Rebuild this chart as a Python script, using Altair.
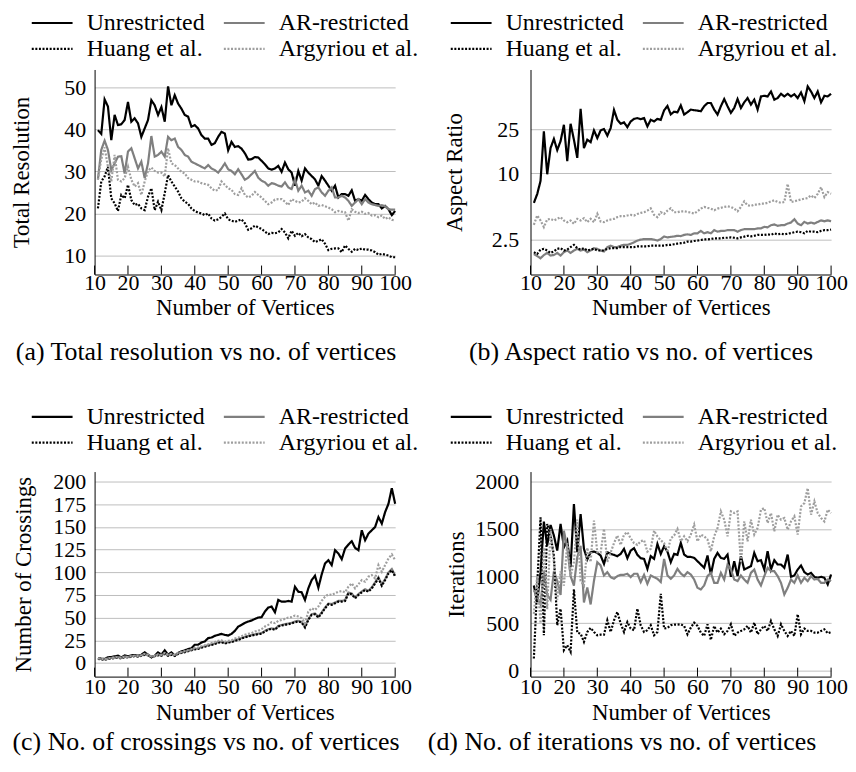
import altair as alt
import pandas as pd

FONT = "Liberation Serif"
TICK_FS = 22
TITLE_FS = 23
LEG_FS = 24
CAP_FS = 26

vertices = list(range(11, 101))
x_ticks = [10, 20, 30, 40, 50, 60, 70, 80, 90, 100]
series_names = ["Unrestricted", "AR-restricted", "Huang et al.", "Argyriou et al."]
series_colors = ["#000000", "#7f7f7f", "#000000", "#9e9e9e"]
series_dashes = [[1, 0], [1, 0], [2, 1.6], [2, 1.6]]
series_widths = [2.2, 2.2, 1.8, 1.8]

# (a) Total resolution
res_unres = [39.8, 38.9, 47.1, 45.4, 37.4, 43.4, 41.0, 41.2, 42.2, 46.5,
             41.8, 42.6, 41.4, 38.2, 40.2, 42.2, 46.9, 45.7, 43.4, 45.3,
             41.8, 50.2, 45.7, 48.1, 46.1, 44.9, 43.4, 43.0, 40.6, 41.0,
             40.2, 38.6, 37.8, 37.8, 36.3, 36.7, 38.2, 39.4, 39.0, 35.0,
             37.0, 35.8, 36.0, 35.4, 34.3, 32.8, 32.9, 33.4, 33.3, 32.5,
             31.7, 30.7, 30.4, 30.7, 31.3, 29.9, 32.1, 30.5, 29.7, 26.6,
             30.1, 27.8, 30.7, 29.7, 28.9, 28.1, 26.6, 28.9, 27.8, 26.6,
             25.4, 26.6, 23.8, 24.6, 24.6, 24.2, 25.5, 23.0, 23.4, 23.0,
             24.4, 23.4, 22.6, 22.2, 22.2, 21.2, 21.8, 21.0, 19.6, 20.6]
res_ar = [28.1, 35.1, 37.3, 35.1, 30.3, 31.9, 33.5, 33.6, 29.5, 34.7,
          35.5, 33.1, 30.7, 32.3, 28.4, 31.9, 38.4, 33.5, 33.9, 34.7,
          33.5, 38.2, 37.4, 37.8, 35.8, 35.1, 33.9, 33.5, 32.3, 31.9,
          31.5, 31.1, 30.7, 31.5, 30.7, 30.3, 29.7, 30.7, 31.9, 30.5,
          30.1, 29.3, 30.5, 29.3, 28.0, 28.5, 29.3, 30.1, 28.5, 27.8,
          27.4, 26.6, 27.2, 27.0, 26.6, 26.4, 27.4, 26.2, 25.8, 28.1,
          25.4, 26.6, 25.0, 25.4, 24.2, 25.8, 26.2, 25.0, 24.2, 25.4,
          26.2, 23.8, 23.8, 24.2, 23.8, 23.0, 21.8, 22.6, 23.4, 22.2,
          23.4, 22.6, 22.2, 22.0, 21.8, 22.0, 21.7, 21.0, 20.9, 20.9]
res_huang = [21.2, 27.6, 28.8, 31.1, 23.6, 22.4, 20.6, 24.4, 23.6, 26.8,
             23.2, 22.0, 22.3, 21.2, 20.8, 24.0, 26.0, 20.8, 22.8, 20.8,
             24.8, 29.1, 27.6, 26.4, 25.2, 23.6, 22.8, 22.3, 21.2, 20.6,
             20.2, 20.0, 19.6, 20.0, 18.8, 18.3, 18.6, 19.2, 20.0, 18.6,
             18.3, 18.0, 18.3, 18.6, 17.7, 16.1, 16.5, 17.1, 16.7, 16.3,
             15.7, 15.1, 15.4, 15.3, 15.5, 16.3, 15.5, 14.1, 15.9, 14.7,
             15.4, 14.6, 15.1, 14.3, 13.9, 13.2, 13.5, 13.9, 12.8, 11.3,
             11.6, 11.7, 11.7, 10.8, 12.4, 11.6, 10.9, 11.6, 11.3, 11.7,
             11.4, 11.4, 11.2, 10.8, 10.2, 10.4, 10.2, 10.0, 9.6, 9.6]
res_arg = [28.0, 32.9, 35.7, 31.1, 27.6, 33.9, 28.0, 27.6, 28.4, 31.1,
           28.0, 26.4, 27.2, 24.4, 27.6, 30.1, 30.9, 30.1, 29.7, 29.7,
           28.8, 35.5, 31.9, 31.5, 30.7, 29.9, 29.5, 28.4, 28.0, 27.6,
           27.6, 27.2, 27.0, 26.8, 26.0, 25.4, 25.6, 27.6, 26.8, 26.0,
           25.6, 24.6, 24.4, 26.0, 24.4, 23.8, 24.2, 25.1, 24.4, 23.8,
           23.0, 22.2, 22.6, 23.3, 23.4, 23.4, 22.8, 22.0, 23.4, 23.0,
           22.6, 22.8, 23.6, 23.0, 22.2, 22.6, 21.8, 22.0, 21.7, 21.4,
           21.0, 20.3, 20.6, 20.4, 20.3, 18.3, 21.0, 20.4, 20.1, 20.4,
           19.9, 20.1, 19.5, 19.6, 19.1, 19.5, 18.7, 19.1, 18.5, 18.3]

# (b) Aspect ratio
asp_unres = [5.40, 6.49, 8.53, 23.9, 9.8, 16.9, 20.4, 16.2, 19.5, 27.4,
             12.9, 28.0, 20.1, 13.8, 38.1, 16.9, 20.1, 19.1, 24.4, 20.8,
             24.4, 25.1, 21.9, 25.6, 37.3, 30.4, 28.0, 28.8, 26.1, 29.4,
             31.0, 31.5, 30.8, 31.5, 26.5, 30.4, 29.4, 31.0, 30.4, 37.0,
             40.5, 34.0, 36.0, 35.5, 41.0, 33.9, 35.6, 37.6, 37.1, 36.8,
             36.3, 40.3, 43.1, 43.1, 37.6, 33.9, 40.3, 46.8, 40.3, 35.1,
             38.9, 46.8, 38.9, 43.7, 47.8, 41.7, 46.2, 37.6, 49.4, 50.1,
             49.4, 54.8, 46.2, 47.8, 52.2, 49.4, 52.2, 49.4, 51.8, 47.8,
             53.7, 44.7, 60.8, 54.8, 47.8, 54.8, 43.7, 50.1, 49.4, 52.2]
asp_ar = [1.87, 1.79, 1.71, 1.83, 1.91, 1.81, 1.83, 1.91, 1.81, 1.94,
          2.01, 1.91, 2.01, 2.08, 2.01, 2.05, 1.94, 2.01, 2.11, 2.08,
          2.01, 1.97, 2.16, 2.22, 2.16, 2.16, 2.22, 2.26, 2.26, 2.31,
          2.38, 2.47, 2.52, 2.55, 2.55, 2.55, 2.52, 2.47, 2.55, 2.69,
          2.64, 2.67, 2.69, 2.73, 2.71, 2.78, 2.81, 2.78, 2.87, 2.87,
          3.02, 2.87, 2.94, 2.87, 3.07, 2.97, 3.02, 3.02, 3.07, 3.07,
          3.07, 2.97, 3.07, 3.13, 3.13, 3.13, 3.13, 3.18, 3.18, 3.29,
          3.25, 3.40, 3.45, 3.36, 3.40, 3.40, 3.52, 3.59, 3.85, 3.52,
          3.40, 3.64, 3.52, 3.59, 3.52, 3.64, 3.76, 3.69, 3.76, 3.69]
asp_huang = [1.94, 1.87, 2.05, 2.08, 2.01, 1.91, 1.97, 2.08, 2.11, 2.01,
             2.05, 2.16, 2.26, 2.11, 2.05, 2.11, 2.01, 2.05, 2.08, 2.01,
             2.01, 2.01, 2.08, 2.11, 2.11, 2.11, 2.16, 2.16, 2.16, 2.16,
             2.16, 2.19, 2.19, 2.19, 2.19, 2.22, 2.22, 2.22, 2.22, 2.22,
             2.26, 2.26, 2.29, 2.32, 2.34, 2.36, 2.42, 2.42, 2.45, 2.47,
             2.50, 2.53, 2.53, 2.55, 2.59, 2.59, 2.59, 2.62, 2.62, 2.64,
             2.62, 2.59, 2.64, 2.68, 2.73, 2.70, 2.73, 2.78, 2.78, 2.78,
             2.81, 2.78, 2.87, 2.81, 2.85, 2.81, 2.85, 2.89, 2.94, 2.97,
             2.94, 2.87, 3.02, 2.97, 2.97, 2.94, 3.02, 3.07, 3.07, 3.10]
asp_arg = [3.43, 4.16, 3.75, 3.27, 3.83, 3.88, 3.75, 3.88, 4.02, 3.75,
           3.62, 3.75, 3.50, 3.88, 3.75, 3.94, 3.62, 3.88, 3.62, 4.30,
           3.67, 3.62, 3.75, 3.83, 3.88, 4.02, 4.10, 4.10, 4.16, 4.21,
           4.16, 4.30, 4.39, 4.45, 4.60, 4.83, 4.21, 4.02, 4.45, 4.30,
           4.60, 4.83, 4.45, 4.45, 4.54, 4.54, 4.48, 4.42, 4.33, 4.54,
           4.80, 4.97, 4.88, 4.80, 4.64, 4.80, 4.88, 4.97, 5.03, 4.97,
           4.80, 4.54, 4.97, 5.58, 5.14, 5.07, 5.21, 5.21, 5.32, 5.32,
           5.42, 5.58, 5.70, 5.51, 5.42, 5.51, 8.02, 5.51, 5.58, 5.70,
           5.81, 5.90, 5.98, 6.31, 5.98, 6.53, 7.50, 6.10, 6.76, 6.53]

# (c) Number of crossings
cr_unres = [5.5, 4.7, 4.4, 6.2, 6.6, 7.3, 8.0, 6.2, 8.4, 7.3,
            8.4, 8.8, 8.0, 9.1, 11.7, 9.1, 6.2, 8.0, 11.7, 9.1,
            13.9, 9.1, 11.7, 8.0, 11.0, 12.8, 13.9, 15.3, 16.4, 20.1,
            20.1, 22.6, 23.7, 27.4, 28.1, 29.9, 31.0, 32.1, 31.0, 30.3,
            32.1, 35.4, 40.1, 42.0, 44.2, 45.7, 46.8, 48.6, 50.1, 50.5,
            56.7, 61.1, 62.2, 55.9, 69.5, 67.6, 67.6, 68.4, 67.6, 84.1,
            78.6, 77.9, 69.5, 82.3, 91.4, 96.2, 83.0, 97.6, 109.7, 113.3,
            107.9, 124.3, 120.7, 114.4, 126.1, 130.5, 134.2, 126.9, 124.3, 146.3,
            135.3, 142.6, 146.3, 149.9, 160.9, 153.6, 166.4, 175.5, 192.7, 175.5]
cr_ar = [5.0, 4.5, 4.0, 5.0, 5.5, 6.0, 6.5, 5.5, 7.0, 6.5,
         7.5, 8.0, 7.5, 8.5, 9.5, 9.0, 7.0, 8.0, 9.0, 8.5,
         10.5, 8.5, 9.5, 8.5, 10.5, 11.5, 12.5, 13.5, 14.5, 15.5,
         16.0, 17.5, 18.5, 19.5, 20.5, 21.5, 23.0, 23.5, 22.0, 23.0,
         23.5, 25.0, 26.0, 27.5, 28.8, 29.8, 30.8, 31.5, 32.3, 33.0,
         35.4, 37.2, 38.2, 37.3, 40.8, 41.9, 42.8, 43.5, 44.2, 45.8,
         46.5, 45.3, 40.0, 48.3, 53.8, 54.6, 51.0, 55.7, 61.0, 65.5,
         64.9, 66.6, 68.5, 68.4, 69.3, 77.7, 76.6, 72.2, 75.9, 78.8,
         81.3, 79.6, 83.3, 88.9, 94.4, 86.3, 92.5, 99.8, 103.6, 96.2]
cr_huang = [4.5, 4.0, 3.5, 4.5, 5.0, 5.5, 6.0, 5.0, 6.5, 6.0,
            7.0, 7.5, 7.0, 8.0, 9.0, 8.5, 6.5, 7.5, 8.5, 8.0,
            10.0, 8.0, 9.0, 8.0, 10.0, 11.0, 12.0, 13.0, 14.0, 15.0,
            15.5, 17.0, 18.0, 19.0, 20.0, 21.0, 22.5, 23.0, 21.5, 22.5,
            23.0, 24.5, 25.5, 27.0, 28.2, 29.3, 30.3, 31.1, 31.8, 32.2,
            34.7, 36.6, 37.7, 36.6, 40.2, 41.3, 42.0, 42.8, 43.5, 45.0,
            45.7, 44.6, 39.1, 47.5, 53.0, 53.7, 50.1, 54.8, 60.3, 64.7,
            64.0, 65.8, 67.6, 67.6, 68.4, 76.8, 75.7, 71.3, 75.0, 77.9,
            80.4, 78.6, 82.3, 87.8, 93.2, 85.2, 91.4, 98.7, 102.4, 95.1]
cr_arg = [5.0, 4.5, 4.0, 5.0, 5.5, 6.0, 6.5, 5.5, 7.0, 6.5,
          7.5, 8.0, 7.5, 8.5, 10.0, 9.0, 7.0, 8.0, 9.5, 9.0,
          11.0, 9.0, 10.0, 9.0, 11.0, 12.0, 13.0, 14.0, 15.0, 16.5,
          17.0, 18.5, 19.5, 20.5, 22.0, 23.0, 24.5, 25.0, 23.5, 24.5,
          25.0, 27.0, 28.0, 29.5, 31.1, 32.2, 32.9, 34.7, 35.5, 37.3,
          40.2, 42.0, 45.0, 43.9, 46.4, 47.5, 48.6, 50.1, 50.5, 52.3,
          51.2, 49.4, 43.9, 56.7, 60.3, 58.5, 62.2, 68.4, 73.1, 75.7,
          75.0, 76.8, 78.6, 79.3, 77.9, 84.1, 87.8, 82.3, 86.7, 91.4,
          89.6, 95.1, 96.9, 93.2, 107.9, 100.6, 107.9, 115.2, 119.6, 113.3]

# (d) Iterations
it_unres = [901, 725, 1042, 1577, 1324, 1542, 1430, 1271, 1553, 1306,
            1377, 1095, 1764, 1253, 1658, 1289, 1176, 1253, 1260, 1246,
            1218, 1130, 1253, 1236, 1225, 1211, 1236, 1289, 1190, 1271,
            1296, 1225, 1190, 1183, 1077, 1211, 1183, 1341, 1236, 1317,
            1260, 1148, 1236, 1225, 1352, 1228, 1204, 1204, 1193, 1158,
            1123, 1088, 1218, 1017, 1183, 1246, 1193, 1183, 1228, 993,
            1158, 1000, 1211, 1070, 1088, 1105, 1246, 1158, 1169, 1070,
            1264, 1070, 1169, 1123, 1123, 1088, 1228, 993, 1007, 1070,
            1112, 1042, 1017, 1035, 993, 982, 993, 982, 912, 1017]
it_ar = [850, 780, 700, 1050, 800, 750, 1050, 950, 800, 1480,
         1300, 1000, 900, 1200, 1320, 720, 880, 700, 950, 1148,
         1113, 1007, 1042, 989, 972, 1000, 1014, 1014, 1025, 989,
         1025, 1025, 937, 1014, 919, 1007, 989, 972, 937, 1183,
         1007, 972, 1007, 1077, 1028, 1000, 1042, 1017, 964, 876,
         859, 901, 1000, 1035, 929, 929, 1035, 964, 1123, 1070,
         964, 947, 1007, 964, 929, 1035, 1070, 964, 901, 1000,
         1088, 1052, 1052, 1000, 929, 806, 876, 964, 929, 1007,
         929, 982, 947, 1000, 964, 971, 929, 929, 964, 947]
it_huang = [127, 900, 1623, 373, 1553, 1430, 1218, 479, 655, 215,
            268, 197, 860, 400, 391, 303, 408, 451, 408, 373,
            380, 380, 532, 408, 532, 620, 496, 408, 514, 444,
            426, 655, 479, 408, 426, 479, 373, 408, 813, 444,
            451, 479, 486, 486, 489, 472, 384, 454, 507, 472,
            401, 366, 489, 324, 472, 401, 444, 384, 419, 489,
            366, 401, 419, 436, 472, 401, 507, 384, 436, 472,
            419, 524, 436, 366, 489, 419, 366, 419, 366, 595,
            384, 444, 419, 419, 401, 401, 419, 436, 394, 408]
it_arg = [600, 1000, 500, 1300, 650, 1500, 1150, 750, 1050, 900,
          1350, 1000, 1150, 1600, 950, 900, 1300, 1150, 1588, 1253,
          1250, 1500, 1150, 1250, 1350, 1430, 1330, 1440, 1465, 1400,
          1350, 1330, 1370, 1380, 1260, 1289, 1482, 1420, 1380, 1350,
          1253, 1400, 1430, 1500, 1369, 1422, 1369, 1440, 1545, 1369,
          1440, 1422, 1387, 1264, 1422, 1510, 1686, 1598, 1422, 1686,
          1668, 1686, 1140, 1580, 1369, 1598, 1440, 1510, 1704, 1721,
          1563, 1668, 1475, 1651, 1598, 1616, 1492, 1580, 1633, 1440,
          1739, 1774, 1932, 1651, 1792, 1668, 1616, 1580, 1704, 1668]

PLOT_W = 302
PLOT_H = 206
D = 41 / 4.0  # legend symbol unit, line sample is 4*D long


def make_panel(values, y_domain, y_ticks, y_title, caption, log=False, fmt="d",
               legend_x=-70, legend_y=-58.7, cap_dx=-39, cap_offset=19, xtitle_y=34,
               title_x=-73, ylab_pad=9, xlab_pad=8.5):
    rows = []
    for name, vals in zip(series_names, values):
        for v, y in zip(vertices, vals):
            rows.append({"v": v, "series": name, "val": y})
    df = pd.DataFrame(rows)

    legend = alt.Legend(
        title=None, orient="none", legendX=legend_x, legendY=legend_y,
        columns=2, direction="horizontal", padding=0,
        symbolType="M-1,0H7", symbolSize=D * D, symbolStrokeWidth=2,
        labelFont=FONT, labelFontSize=LEG_FS, labelColor="black", labelOffset=38,
        columnPadding=12, rowPadding=2, labelLimit=300,
    )
    if log:
        yscale = alt.Scale(type="log", domain=y_domain, nice=False, zero=False)
    else:
        yscale = alt.Scale(domain=y_domain, nice=False, zero=False)
    xscale = alt.Scale(domain=[10, 100], nice=False, zero=False)

    x_axis = alt.Axis(
        values=x_ticks, title="Number of Vertices", grid=False, ticks=False, tickSize=0,
        domainColor="black", domainWidth=1, labelFont=FONT, labelFontSize=TICK_FS,
        labelColor="black", labelPadding=xlab_pad, labelBaseline="middle", labelFlush=False,
        labelOverlap=False, format="d", titleFont=FONT, titleFontSize=TITLE_FS,
        titleFontWeight="normal", titleColor="black", titleY=xtitle_y,
        titleBaseline="middle",
    )
    y_axis = alt.Axis(
        values=y_ticks, title=y_title, grid=True, gridColor="#bdbdbd", gridWidth=1,
        ticks=False, tickSize=0, domainColor="black", domainWidth=1,
        labelFont=FONT, labelFontSize=TICK_FS, labelColor="black", labelPadding=ylab_pad,
        labelOverlap=False, format=fmt, titleFont=FONT, titleFontSize=TITLE_FS,
        titleFontWeight="normal", titleColor="black", titleX=title_x, titleY=PLOT_H / 2,
        titleAngle=-90, titleAlign="center", titleBaseline="middle",
    )

    lines = alt.Chart(df).mark_line().encode(
        x=alt.X("v:Q", scale=xscale, axis=x_axis),
        y=alt.Y("val:Q", scale=yscale, axis=y_axis),
        color=alt.Color("series:N", scale=alt.Scale(domain=series_names, range=series_colors),
                        legend=legend),
        strokeDash=alt.StrokeDash("series:N", scale=alt.Scale(domain=series_names, range=series_dashes),
                                  legend=legend),
        strokeWidth=alt.StrokeWidth("series:N", scale=alt.Scale(domain=series_names, range=series_widths),
                                    legend=None),
    )
    tick_df = pd.DataFrame({"v": x_ticks})
    ticks = alt.Chart(tick_df).mark_rule(color="black", strokeWidth=1).encode(
        x=alt.X("v:Q", scale=xscale, axis=x_axis), y=alt.value(PLOT_H), y2=alt.value(PLOT_H - 9)
    )
    return alt.layer(lines, ticks).properties(
        width=PLOT_W, height=PLOT_H,
        title=alt.TitleParams(caption, orient="bottom", anchor="middle", frame="group",
                              dx=cap_dx, offset=cap_offset, font=FONT, fontSize=CAP_FS,
                              fontWeight="normal", color="black"),
    )


pa = make_panel([res_unres, res_ar, res_huang, res_arg], [5.5, 54.2], [10, 20, 30, 40, 50],
                "Total Resolution", "(a) Total resolution vs no. of vertices",
                legend_x=-70, legend_y=-58.7, cap_dx=-39, cap_offset=20, xtitle_y=33,
                title_x=-73, ylab_pad=9, xlab_pad=8.5)
pb = make_panel([asp_unres, asp_ar, asp_huang, asp_arg], [1.22, 86.5], [2.5, 10, 25],
                "Aspect Ratio", "(b) Aspect ratio vs no. of vertices", log=True, fmt=".2~f",
                legend_x=-87, legend_y=-58.7, cap_dx=-40, cap_offset=20, xtitle_y=33,
                title_x=-76, ylab_pad=12, xlab_pad=8.5)
pc = make_panel([cr_unres, cr_ar, cr_huang, cr_arg], [-15, 211], [0, 25, 50, 75, 100, 125, 150, 175, 200],
                "Number of Crossings", "(c) No. of crossings vs no. of vertices",
                legend_x=-70, legend_y=-67, cap_dx=-39, cap_offset=5, xtitle_y=36,
                title_x=-71, ylab_pad=9, xlab_pad=10)
pd_ = make_panel([it_unres, it_ar, it_huang, it_arg], [-65, 2108], [0, 500, 1000, 1500, 2000],
                 "Iterations", "(d) No. of iterations vs no. of vertices",
                 legend_x=-87, legend_y=-67, cap_dx=-59, cap_offset=5, xtitle_y=36,
                 title_x=-74, ylab_pad=12, xlab_pad=10)

chart = alt.concat(
    pa, pb, pc, pd_, columns=2, spacing={"row": 198, "column": 136}, bounds="flush"
).resolve_scale(
    x="independent", y="independent", color="independent",
    strokeDash="independent", strokeWidth="independent",
).resolve_legend(
    color="independent", strokeDash="independent"
).configure_view(stroke="transparent").properties(
    padding={"left": 2, "top": 0, "right": 0, "bottom": 0}
)

chart.save("out.html", embed_options={"renderer": "svg", "actions": False})
